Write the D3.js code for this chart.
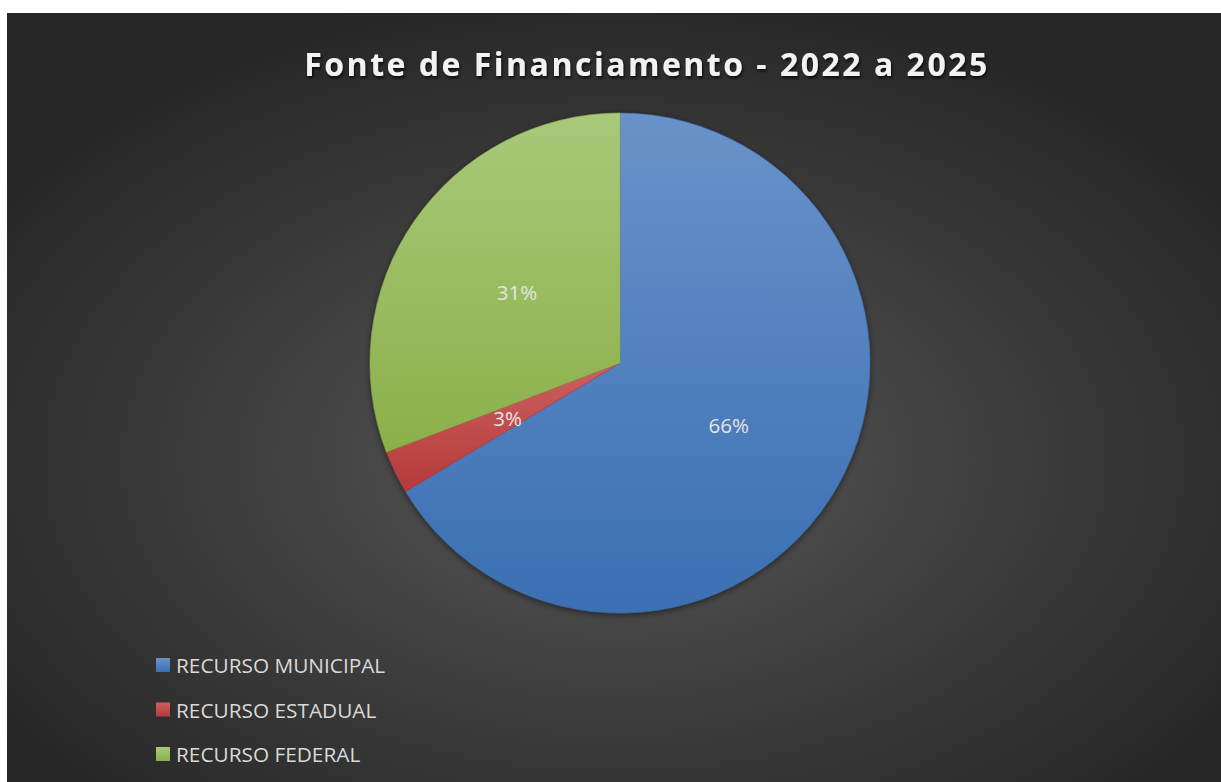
<!DOCTYPE html>
<html>
<head>
<meta charset="utf-8">
<script src="https://cdn.jsdelivr.net/npm/d3@7"></script>
<style>
  html, body { margin: 0; padding: 0; background: #ffffff; }
  svg { display: block; }
</style>
</head>
<body>
<svg id="chart" width="1221" height="782"></svg>
<script>
// ---- data ----
const categories = ["RECURSO MUNICIPAL", "RECURSO ESTADUAL", "RECURSO FEDERAL"];
const values = [66.4, 2.8, 30.8];
const titleText = "Fonte de Financiamento - 2022 a 2025";

// ---- styling ----
const gradTop = ["#6a92c9", "#cc6060", "#a8c979"];
const gradBot = ["#3a6fb3", "#b53a3a", "#8bb04a"];

const W = 1221, H = 782;
const svg = d3.select("#chart");
const defs = svg.append("defs");

// background radial gradient
const bg = defs.append("radialGradient").attr("id", "bg")
  .attr("cx", "50%").attr("cy", "58%").attr("r", "62%");
bg.append("stop").attr("offset", "0%").attr("stop-color", "#575757");
bg.append("stop").attr("offset", "100%").attr("stop-color", "#262626");

categories.forEach((c, i) => {
  const g = defs.append("linearGradient").attr("id", "g" + i)
    .attr("x1", 0).attr("y1", 0).attr("x2", 0).attr("y2", 1);
  g.append("stop").attr("offset", "0%").attr("stop-color", gradTop[i]);
  g.append("stop").attr("offset", "100%").attr("stop-color", gradBot[i]);
});

const shadow = defs.append("filter").attr("id", "pieShadow")
  .attr("x", "-10%").attr("y", "-10%").attr("width", "120%").attr("height", "120%");
shadow.append("feDropShadow").attr("dx", 0).attr("dy", 2).attr("stdDeviation", 3)
  .attr("flood-color", "#000").attr("flood-opacity", 0.5);

const tshadow = defs.append("filter").attr("id", "titleShadow")
  .attr("x", "-5%").attr("y", "-30%").attr("width", "110%").attr("height", "160%");
tshadow.append("feDropShadow").attr("dx", 1).attr("dy", 2).attr("stdDeviation", 1.5)
  .attr("flood-color", "#000").attr("flood-opacity", 0.8);

svg.append("rect").attr("x", 7).attr("y", 13).attr("width", W - 7).attr("height", H - 13)
  .attr("fill", "url(#bg)");

// title
svg.append("text")
  .attr("x", 647).attr("y", 76)
  .attr("text-anchor", "middle")
  .attr("font-family", "'Open Sans', sans-serif")
  .attr("font-weight", "bold")
  .attr("font-size", 32)
  .attr("letter-spacing", 2.5)
  .attr("fill", "#f2f2f2")
  .attr("filter", "url(#titleShadow)")
  .text(titleText);

// pie
const cx = 620, cy = 363, R = 250;
const pie = d3.pie().sort(null).value(d => d);
const arcs = pie(values);
const arc = d3.arc().innerRadius(0).outerRadius(R);
const labelArc = d3.arc().innerRadius(R * 0.5).outerRadius(R * 0.5);

const g = svg.append("g").attr("transform", `translate(${cx},${cy})`);
const pg = g.append("g").attr("filter", "url(#pieShadow)");
pg.selectAll("path").data(arcs).join("path")
  .attr("d", arc)
  .attr("fill", (d, i) => `url(#g${i})`)
  .attr("stroke", (d, i) => gradBot[i])
  .attr("stroke-width", 0.5);

const total = d3.sum(values);
g.selectAll("text.lbl").data(arcs).join("text")
  .attr("class", "lbl")
  .attr("transform", d => `translate(${labelArc.centroid(d)})`)
  .attr("text-anchor", "middle")
  .attr("dominant-baseline", "central")
  .attr("font-family", "'Open Sans', sans-serif")
  .attr("font-size", 20.5)
  .attr("fill", "#e4e4e4")
  .text(d => Math.round(d.data / total * 100) + "%");

// legend
const legendY = d3.scalePoint().domain(categories).range([665, 754]);
const lg = svg.append("g");
categories.forEach((c, i) => {
  const y = legendY(c);
  lg.append("rect").attr("x", 156).attr("y", y - 7).attr("width", 14).attr("height", 14)
    .attr("fill", `url(#g${i})`);
  lg.append("text").attr("x", 176).attr("y", y)
    .attr("dominant-baseline", "central")
    .attr("font-family", "'Open Sans', sans-serif")
    .attr("font-size", 20.8)
    .attr("fill", "#d9d9d9")
    .text(c);
});
</script>
</body>
</html>
